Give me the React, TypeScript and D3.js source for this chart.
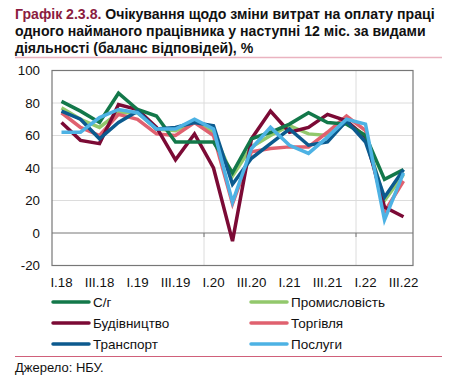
import React from 'react';
import * as d3 from 'd3';

const quarters = ['I.18', 'II.18', 'III.18', 'IV.18', 'I.19', 'II.19', 'III.19', 'IV.19', 'I.20', 'II.20',
  'III.20', 'IV.20', 'I.21', 'II.21', 'III.21', 'IV.21', 'I.22', 'II.22', 'III.22'];
const tickLabels = ['I.18', 'III.18', 'I.19', 'III.19', 'I.20', 'III.20', 'I.21', 'III.21', 'I.22', 'III.22'];
const yTicks = [-20, 0, 20, 40, 60, 80, 100];

const agro = [81, 75, 68, 86, 76, 72, 56, 56, 56, 37, 58, 62, 67, 74, 68, 67, 60, 33, 39];
const industry = [77, 70, 65, 74, 74, 64, 63, 68, 62, 35, 53, 60, 66, 61, 60, 68, 60, 20, 36];
const construction = [68, 57, 55, 79, 76, 65, 45, 61, 40, -5, 58, 75, 62, 65, 73, 69, 59, 16, 10];
const trade = [74, 65, 60, 73, 70, 61, 60, 68, 60, 18, 50, 52, 53, 53, 62, 72, 63, 13, 32];
const transport = [75, 70, 58, 68, 75, 64, 65, 68, 66, 30, 46, 55, 64, 54, 56, 69, 56, 22, 39];
const services = [62, 62, 71, 76, 74, 64, 64, 70, 64, 19, 52, 65, 54, 49, 59, 70, 67, 8, 37];

const series = [
  { name: 'С/г', values: agro, color: '#13784a' },
  { name: 'Промисловість', values: industry, color: '#92c86c' },
  { name: 'Будівництво', values: construction, color: '#7b0a35' },
  { name: 'Торгівля', values: trade, color: '#e0616f' },
  { name: 'Транспорт', values: transport, color: '#0c5a8e' },
  { name: 'Послуги', values: services, color: '#4db2e4' },
];

const font = 'Liberation Sans, Arial, sans-serif';

export default function App() {
  const left = 52, right = 413, top = 70.5, bottom = 265.5;
  const x = d3.scaleBand<string>().domain(quarters).range([left, right]);
  const y = d3.scaleLinear().domain([-20, 100]).range([bottom, top]);
  const line = d3.line<number>()
    .x((_, i) => (x(quarters[i]) as number) + x.bandwidth() / 2)
    .y(d => y(d));
  const vGrid = ['I.20', 'I.22'];
  // light blue ends up on top
  const drawOrder = [1, 3, 2, 0, 4, 5];

  return (
    <svg width={453} height={390} style={{ position: 'absolute', left: 0, top: 0, background: '#fff' }}
      fontFamily={font}>
      <text x={15} y={19} fontSize={14.1} fontWeight="bold">
        <tspan fill="#8b1c40">Графік 2.3.8.</tspan>
        <tspan fill="#111"> Очікування щодо зміни витрат на оплату праці</tspan>
      </text>
      <text x={15} y={36} fontSize={14.1} fontWeight="bold" fill="#111">одного найманого працівника у наступні 12 міс. за видами</text>
      <text x={15} y={53} fontSize={14.1} fontWeight="bold" fill="#111">діяльності (баланс відповідей), %</text>
      <line x1={15} x2={442} y1={57.5} y2={57.5} stroke="#eab3c0" strokeWidth={1.5} />

      {yTicks.filter(t => t !== 0 && t !== 100 && t !== -20).map(t => (
        <line key={t} x1={left} x2={right} y1={y(t)} y2={y(t)} stroke="#dcdcdc" strokeWidth={1} />
      ))}
      {vGrid.map(q => (
        <line key={q} x1={x(q) as number} x2={x(q) as number} y1={top} y2={bottom} stroke="#dcdcdc" strokeWidth={1} />
      ))}
      <line x1={left} x2={right} y1={y(0)} y2={y(0)} stroke="#777" strokeWidth={1} />
      {vGrid.map(q => (
        <line key={q + 't'} x1={x(q) as number} x2={x(q) as number} y1={y(0)} y2={y(0) + 4} stroke="#777" strokeWidth={1} />
      ))}
      <rect x={left} y={top} width={right - left} height={bottom - top} fill="none" stroke="#777" strokeWidth={1.2} />

      {yTicks.map(t => (
        <text key={t} x={40} y={y(t) + 4.5} textAnchor="end" fontSize={13.3} fill="#111">{t}</text>
      ))}
      {tickLabels.map(q => (
        <text key={q} x={(x(q) as number) + x.bandwidth() / 2} y={287} textAnchor="middle" fontSize={13.3} fill="#111">{q}</text>
      ))}

      {drawOrder.map(i => (
        <path key={series[i].name} d={line(series[i].values) ?? ''} fill="none" stroke={series[i].color}
          strokeWidth={3.5} strokeLinejoin="miter" />
      ))}

      {series.map((s, i) => {
        const col = i % 2, row = Math.floor(i / 2);
        const lx = col === 0 ? 53 : 251;
        const ly = 302 + row * 21;
        return (
          <g key={s.name}>
            <line x1={lx} x2={lx + 36} y1={ly} y2={ly} stroke={s.color} strokeWidth={3.5} strokeLinecap="round" />
            <text x={lx + 40} y={ly + 5} fontSize={13.5} fill="#111">{s.name}</text>
          </g>
        );
      })}

      <line x1={15} x2={442} y1={356.5} y2={356.5} stroke="#d0607a" strokeWidth={1} />
      <text x={15} y={372} fontSize={13} fill="#111">Джерело: НБУ.</text>
    </svg>
  );
}
